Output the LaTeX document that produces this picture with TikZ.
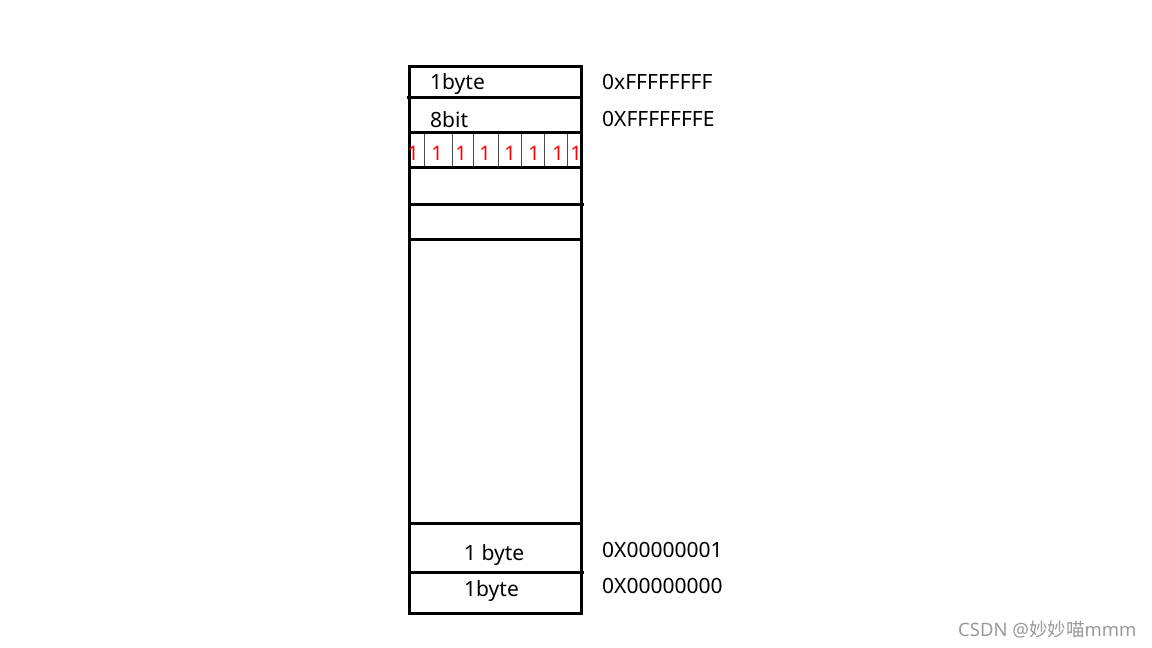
\documentclass[tikz,border=0pt]{standalone}
\usepackage{fontspec}
\setmainfont{Noto Sans}
\newfontfamily\cjk{Noto Sans CJK SC}
\begin{document}
\begin{tikzpicture}[x=1bp,y=-1bp,
  thick line/.style={line width=3bp,black},
  thin line/.style={line width=1bp,black!70},
  lbl/.style={font=\fontsize{21bp}{24bp}\selectfont,inner sep=0pt,anchor=west},
  bit/.style={font=\fontsize{20bp}{22bp}\selectfont,text=red,inner sep=0pt}]
\useasboundingbox (0,0) rectangle (1152,648);
% outer box
\draw[thick line] (409,67) rectangle (581,613);
% horizontal lines
\draw[thick line] (407,98) -- (582,98);
\draw[thick line] (409,133) -- (581,133);
\draw[thick line] (409,168) -- (581,168);
\draw[thick line] (409,205) -- (584,205);
\draw[thick line] (409,240) -- (583,240);
\draw[thick line] (409,523) -- (581,523);
\draw[thick line] (409,572) -- (584,572);
% bit cells
\foreach \x in {424,452,473,498,521,544,567}
  \draw[thin line] (\x,134.5) -- (\x,166.5);
\foreach \x/\n in {413/b1,437/b2,461/b3,485/b4,510/b5,534/b6,558/b7,576/b8}
  \node[bit] (\n) at (\x,153) {1};
% cell texts
\node[lbl] (t1) at (430,84) {1byte};
\node[lbl] (t2) at (430,120) {8bit};
\node[lbl] (t3) at (464,555) {1 byte};
\node[lbl] (t4) at (464,591) {1byte};
% addresses
\node[lbl] (a1) at (602,82) {0xFFFFFFFF};
\node[lbl] (a2) at (602,119) {0XFFFFFFFE};
\node[lbl] (a3) at (602,550) {0X00000001};
\node[lbl] (a4) at (602,586) {0X00000000};
% watermark
\node[inner sep=0pt,anchor=west,text=black!40,font=\fontsize{18.5bp}{20bp}\selectfont] (wm) at (958,630) {CSDN @{\cjk 妙妙喵}mmm};
\end{tikzpicture}
\end{document}
